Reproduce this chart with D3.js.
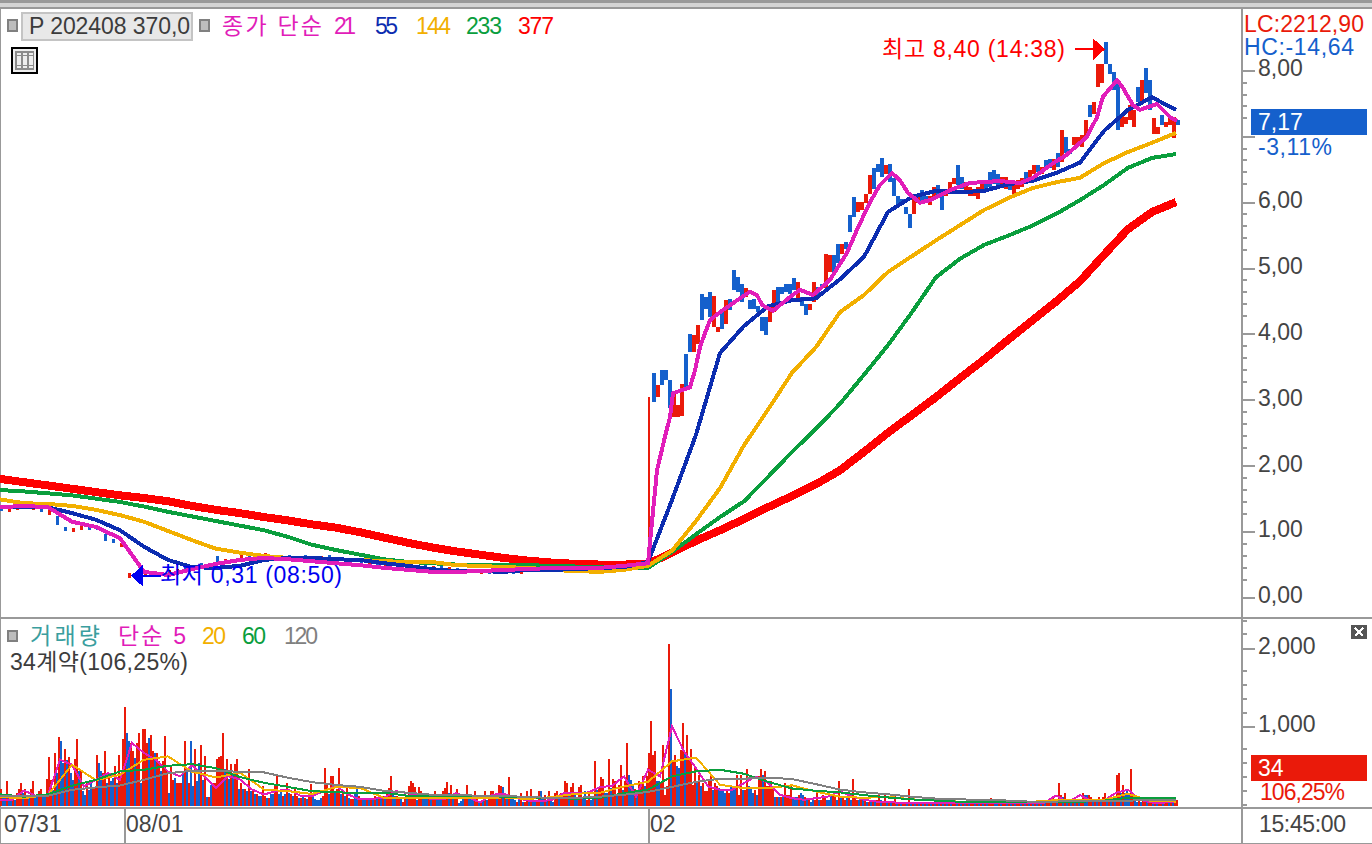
<!DOCTYPE html>
<html>
<head>
<meta charset="utf-8">
<script src="https://cdn.jsdelivr.net/npm/d3@7/dist/d3.min.js"></script>
<style>
  html, body { margin: 0; padding: 0; background: #fff; overflow: hidden; }
  svg { display: block; shape-rendering: crispEdges; }
  text { font-family: "Liberation Sans", "Noto Sans CJK KR", sans-serif; font-size: 23px; }
  .axis text { fill: #444; font-size: 23px; font-family: "Liberation Sans", sans-serif; }
  .axis line { stroke: #999; stroke-width: 2; }
  .axis path { display: none; }
</style>
</head>
<body>
<svg id="chart" width="1372" height="844"></svg>
<script>
//* Price axis
const priceMajor = [0, 1, 2, 3, 4, 5, 6, 7, 8];
const priceMinor = [7.82, 7.64, 7.46, 7.28, 6.82, 6.64, 6.46, 6.28, 5.82, 5.64, 5.46, 5.28, 4.82, 4.64, 4.46, 4.28, 3.82, 3.64, 3.46, 3.28, 2.82, 2.64, 2.46, 2.28, 1.82, 1.64, 1.46, 1.28, 0.82, 0.64, 0.46, 0.28];

//* Volume axis
const volMajor = [1000, 2000];
const volMinor = [2357, 2179, 1714, 1536, 1357, 1179, 714, 536, 357, 179, 0];

//* Date labels (bar index)
const dateIdx = [2, 63, 325];
const dateLabels = ["07/31", "08/01", "02"];
const dateTicks = [62, 324];

//* Candles after the jump, one every 2 bars from bar 324
const candleOpen = [
  0.5, 3.40, 3.04, 3.45, 3.45, 3.30, 2.74, 2.74, 2.76, 3.70,
  4.00, 3.72, 3.85, 4.61, 4.56, 4.64, 4.10, 4.03, 4.38, 4.15,
  4.53, 4.97, 4.86, 4.76, 4.56, 4.51, 4.53, 4.43, 4.26, 4.26,
  4.18, 4.33, 4.71, 4.71, 4.76, 4.76, 4.85, 4.53, 4.56, 4.46,
  4.36, 4.48, 4.71, 4.76, 4.69, 4.94, 5.19, 5.37, 5.22, 5.40,
  5.80, 6.08, 5.85, 5.88, 5.98, 6.13, 6.51, 6.58, 6.67, 6.43,
  6.58, 6.36, 6.10, 6.05, 5.93, 5.82, 5.82, 5.98, 6.18, 6.10,
  5.95, 6.05, 6.26, 6.18, 6.10, 6.20, 6.28, 6.56, 6.38, 6.15,
  6.10, 6.10, 6.05, 6.18, 6.31, 6.46, 6.48, 6.43, 6.23, 6.20,
  6.31, 6.13, 6.20, 6.23, 6.46, 6.33, 6.43, 6.56, 6.43, 6.64,
  6.66, 6.48, 6.74, 6.61, 6.99, 6.81, 6.86, 6.86, 6.84, 6.99,
  7.47, 7.34, 7.75, 7.80, 8.43, 8.10, 7.98, 7.85, 7.14, 7.19,
  7.24, 7.14, 7.75, 7.52, 8.04, 7.85, 7.04, 7.04, 7.32, 7.14,
  7.17, 6.97, 7.24
];
const candleClose = [
  3.04, 2.97, 3.22, 3.22, 3.30, 2.87, 3.09, 2.92, 3.24, 3.17,
  3.72, 3.98, 4.13, 4.21, 4.38, 4.26, 4.58, 4.10, 4.08, 4.51,
  4.36, 4.66, 4.64, 4.48, 4.69, 4.38, 4.38, 4.33, 4.05, 3.99,
  4.43, 4.66, 4.48, 4.61, 4.64, 4.61, 4.66, 4.79, 4.43, 4.28,
  4.46, 4.79, 4.58, 4.69, 5.22, 5.19, 4.94, 5.07, 5.37, 5.29,
  5.55, 5.77, 6.00, 6.00, 6.13, 6.41, 6.20, 6.46, 6.38, 6.56,
  6.31, 6.10, 5.93, 5.95, 5.82, 5.60, 6.10, 6.08, 6.00, 5.98,
  6.10, 6.23, 6.08, 5.88, 6.20, 6.31, 6.36, 6.26, 6.20, 6.31,
  6.23, 6.20, 6.23, 6.31, 6.18, 6.23, 6.28, 6.26, 6.38, 6.38,
  6.18, 6.26, 6.33, 6.36, 6.31, 6.48, 6.56, 6.46, 6.53, 6.48,
  6.51, 6.66, 6.54, 7.09, 6.74, 6.73, 6.99, 6.99, 7.02, 7.24,
  7.29, 7.52, 8.10, 8.10, 8.10, 7.95, 7.70, 7.09, 7.34, 7.29,
  7.47, 7.40, 7.52, 7.85, 7.65, 7.40, 7.28, 7.14, 7.17, 7.22,
  7.27, 7.29, 7.17
];

//* Candles before the jump, one every 4 bars from bar 0
const earlyOpen = [
  1.38, 1.30, 1.33, 1.43, 1.33, 1.38, 1.25, 1.23, 1.07, 1.00,
  1.02, 1.07, 1.07, 0.97, 0.89, 0.76, 0.29, 0.36, 0.32, 0.33,
  0.34, 0.37, 0.39, 0.52, 0.42, 0.52, 0.44, 0.63, 0.52, 0.52,
  0.57, 0.67, 0.58, 0.59, 0.57, 0.57, 0.64, 0.57, 0.64, 0.57,
  0.58, 0.64, 0.55, 0.60, 0.54, 0.58, 0.50, 0.55, 0.48, 0.54,
  0.48, 0.52, 0.44, 0.50, 0.43, 0.49, 0.42, 0.45, 0.38, 0.44,
  0.36, 0.42, 0.35, 0.42, 0.40, 0.36, 0.42, 0.45, 0.40, 0.46,
  0.41, 0.44, 0.42, 0.47, 0.43, 0.46, 0.42, 0.48, 0.44, 0.46,
  0.43
];
const earlyClose = [
  1.32, 1.38, 1.40, 1.35, 1.39, 1.30, 1.33, 1.10, 1.01, 1.06,
  1.10, 1.02, 1.02, 0.86, 0.82, 0.82, 0.37, 0.30, 0.39, 0.38,
  0.39, 0.42, 0.44, 0.42, 0.49, 0.44, 0.49, 0.52, 0.58, 0.59,
  0.64, 0.59, 0.64, 0.67, 0.63, 0.63, 0.58, 0.63, 0.58, 0.62,
  0.63, 0.57, 0.62, 0.54, 0.58, 0.53, 0.57, 0.49, 0.54, 0.48,
  0.53, 0.46, 0.50, 0.44, 0.48, 0.42, 0.47, 0.39, 0.44, 0.38,
  0.42, 0.36, 0.40, 0.35, 0.35, 0.40, 0.38, 0.49, 0.44, 0.42,
  0.47, 0.40, 0.46, 0.43, 0.47, 0.42, 0.46, 0.44, 0.48, 0.43,
  0.48
];

//* Price moving averages, one value every 12 bars
const ma55 = [1.37, 1.37, 1.37, 1.28, 1.18, 1.02, 0.77, 0.57, 0.46, 0.45, 0.48, 0.57, 0.60, 0.60, 0.58, 0.57, 0.52, 0.48, 0.43, 0.40, 0.40, 0.39, 0.42, 0.42, 0.43, 0.45, 0.46, 0.54,
  1.48, 2.47, 3.71, 4.12, 4.42, 4.51, 4.54, 4.83, 5.17, 5.85, 6.08, 6.17, 6.15, 6.17, 6.27, 6.32, 6.44, 6.60, 7.08, 7.40, 7.59, 7.40];
const ma144 = [1.49, 1.43, 1.42, 1.39, 1.33, 1.25, 1.15, 1.01, 0.87, 0.74, 0.68, 0.63, 0.60, 0.58, 0.58, 0.57, 0.55, 0.54, 0.54, 0.49, 0.48, 0.46, 0.45, 0.42, 0.40, 0.39, 0.42, 0.48,
  0.71, 1.16, 1.66, 2.31, 2.85, 3.41, 3.80, 4.33, 4.59, 4.94, 5.18, 5.42, 5.65, 5.88, 6.06, 6.21, 6.30, 6.37, 6.59, 6.76, 6.90, 7.05];
const ma233 = [1.63, 1.61, 1.58, 1.55, 1.50, 1.45, 1.38, 1.30, 1.23, 1.16, 1.09, 1.02, 0.92, 0.80, 0.72, 0.65, 0.58, 0.54, 0.52, 0.50, 0.49, 0.49, 0.49, 0.48, 0.47, 0.46, 0.45, 0.45,
  0.69, 0.96, 1.22, 1.46, 1.83, 2.21, 2.56, 2.94, 3.38, 3.83, 4.33, 4.86, 5.14, 5.35, 5.49, 5.64, 5.82, 6.03, 6.26, 6.52, 6.67, 6.73];
const ma377 = [1.80, 1.75, 1.70, 1.65, 1.60, 1.55, 1.51, 1.46, 1.39, 1.33, 1.28, 1.22, 1.17, 1.11, 1.06, 0.99, 0.91, 0.83, 0.76, 0.70, 0.65, 0.60, 0.56, 0.53, 0.51, 0.50, 0.50, 0.51,
  0.68, 0.86, 1.02, 1.19, 1.37, 1.54, 1.72, 1.93, 2.21, 2.50, 2.77, 3.04, 3.33, 3.61, 3.91, 4.20, 4.49, 4.80, 5.20, 5.59, 5.85, 6.00];

// the 21 line turns too often for a 12 bar grid
const ma21Idx = [0, 12, 24, 36, 48, 60, 72, 84, 96, 108, 120, 132, 144, 156, 168, 180, 192, 204, 216, 228, 240, 252, 264, 276, 288, 300, 312,
  324, 328.5, 332.5, 335, 336.5, 345, 347.5, 350, 352.5, 355, 360, 370, 375, 378.5, 381, 386.5, 395, 400, 406.5, 415, 423.5, 428.5, 435, 440, 446, 450, 454, 460, 465, 476.5, 485, 500, 510, 516.5, 526.5, 533.5, 540, 543.5, 548.5, 551.5, 558.5, 561.5, 566.5, 570, 578.5, 585, 588.5];
const ma21 = [1.37, 1.39, 1.37, 1.15, 1.07, 0.90, 0.39, 0.34, 0.43, 0.51, 0.57, 0.60, 0.58, 0.55, 0.52, 0.49, 0.45, 0.42, 0.39, 0.39, 0.40, 0.42, 0.43, 0.45, 0.45, 0.45, 0.48,
  0.52, 1.93, 2.44, 2.74, 3.10, 3.19, 3.45, 3.80, 4.01, 4.21, 4.33, 4.54, 4.64, 4.59, 4.44, 4.35, 4.56, 4.67, 4.59, 4.82, 5.23, 5.58, 6.00, 6.26, 6.44, 6.33, 6.14, 5.99, 6.03, 6.20, 6.29, 6.32, 6.29, 6.37, 6.59, 6.72, 6.90, 6.99, 7.29, 7.60, 7.85, 7.73, 7.47, 7.40, 7.49, 7.29, 7.23];

//* Volume per bar, negative = falling bar (blue)
const volA = [196,-81,-81,303,-81,-60,81,-60,145,196,273,-145,196,124,-81,196,303,-81,-102,167,196,-102,-124,325,606,316,-188,658,-401,863,-807,-530,709,-572,606,-401,-316,581,841,-423,423,-167,-124,273,-179,-273,209,209,636,-530,-423,401,687,-273,337,-295,-337,487,-273,636,401,837,1250,-914,-807,786,679,-594,786,914,-273,969,969,786,-850,892,679,-658,658,551,-423,551,871,444,-145,487,316,-337,273,273,273,-401,807,-444,273,-807,-231,709,-295,-530,764,-316,615,-102,102,-252,273,273,581,606];
const volB = [619,918,-448,576,-320,512,-384,512,576,-192,277,-192,192,-171,448,-171,192,-128,128,-107,-107,235,107,-85,85,-128,-128,235,363,-128,-192,107,-128,277,-149,128,-107,192,107,-85,85,-107,85,-64,107,256,-107,-64,-55,-55,-85,107,470,277,-128,363,363,-149,192,470,-128,171,-107,235,-85,73,73,-149,-235,107,85,-85,-64,64,-64,85,-85,107,-73,73,-64,107,-73,128,213,363,-171,-107,107,85];
const volC = [-102,38,102,-124,231,303,273,222,-60,222,175,-102,-102,-81,81,-102,102,175,-60,-81,-124,175,209,282,-145,252,-124,124,201,-17,-51,-102,124,252,-102,-81,-102,175,102,-26,26,-51,175,-60,124,175,175,124,-124,252,231,-226,124,-124,354,-124,-124,-60,38,-60,145,-38,26,175,-38,201,-102,-60,38,175,-175,-102,124,-60,175,-51,-38,149,175,-102,149,124,303,273,-124,226,273,-124,-102,226,252,-102,-175,60,175,-60,-102,559,-188,226,354,329,-145,-149,585,-209,329,303,-124,252,508,-188,303,790,-380,-316,-231,201,-145,303];
const volD = [273,359,-231,359,658,1072,636,679,-295,-295,273,764,124,231,2045,-1482,572,636,-487,-465,700,1042,-658,892,572,709,252,465,-273,380,-231,273,167,167,316,380,-188,273,231,-209,-188,-167,-145,167,145,-231,-209,-231,380,124,380,-188,188,457,-231,-209,-145,188,-124,359,457,-380,431,231,231,303,231,-102,102,-102,102,-102,273,124,124,252,-81,-102,-102,124,-145,-124,102,-60,60,-38,-60,60,145,-60,60,124,102,-60,-60,-124,124,102,-60,303,-102,102,60,-81,102,-60,329,102,60,-60,60,-60,60,-38,38,-38,38,-60,60,124,-60,38,124,-38,38,-26,26,124,-38,26,-26,38,26,-26,201,-38,26,-26];
const volE = [17,-26,17,-13,26,-17,13,-26,17,-13,26,-17,60,-26,13,-17,26,-13,85,17,-17,13,-26,17,-13,26,-17,13,26,-17,13,-17,26,-13,17,-26,13,85,17,-26,-17,13,-26,17,26,-13,17,-26,13,-17,17,26,-13,17,-26,13,-17,26,-13,17,-26,17,-13,26,-17,13,26,-17,85,
  17,-26,273,124,-102,145,-38,38,-38,26,-38,38,-26,38,145,-124,-124,124,94,-26,26,-38,94,-26,94,145,-26,94,-38,94,-38,380,401,-145,252,-145,-188,-124,453,124,-60,-38,60,-38,60,60,-38,60,38,-38,38,-38,60,60,-38,60,38,-38,38,-38,38,60];
const volStart = [0, 110, 200, 320, 458];

//* Volume moving averages
const vma5 = [60,60,179,111,124,572,508,231,316,401,316,786,658,572,423,359,508,359,209,363,320,192,128,171,192,115,107,171,235,128,64,73,85,171,145,102,68,68,145,94,26,124,137,81,51,38,60,145,145,154,222,239,359,102,444,359,999,679,465,231,188,188,273,359,273,124,81,60,81,102,167,102,60,38,38,17,17,20,22,20,18,18,20,22,20,18,20,20,115,30,120,40,50,150,190,60,25,25,30];
const vma20 = [94,81,124,508,310,380,572,615,420,346,405,192,170,135,222,213,85,81,81,85,85,90,70,95,137,150,231,290,551,600,252,209,209,245,165,100,85,100,65,55,35,30,30,35,55,60,60,137,40,38];
const vma60 = [130,100,130,240,316,423,444,495,515,465,350,277,225,170,158,141,150,111,111,111,111,100,94,80,75,85,145,190,359,423,444,393,290,205,175,155,120,90,65,50,35,32,32,34,34,34,50,85,85,85];
const vma120 = [111,111,111,188,218,243,316,400,430,430,418,410,342,286,250,226,175,150,125,125,110,110,95,85,85,100,125,160,225,290,330,330,345,325,260,190,155,130,100,75,65,60,50,35,38,40,45,50,55,58];

const red = "#ea1a0a";
const blue = "#1560cc";
const gridColor = "#999";

const svg = d3.select("#chart");

//* Scales
const xBar = d3.scaleLinear().domain([0, 589]).range([0, 1178]);
const yPrice = d3.scaleLinear().domain([0, 8]).range([597.5, 70.3]);
const yVol = d3.scaleLinear().domain([0, 2000]).range([804.5, 648]);

//* Frame
const frame = svg.append("g");
const frameRect = (x, y, w, h, c) => frame.append("rect").attr("x", x).attr("y", y).attr("width", w).attr("height", h).attr("fill", c);
frameRect(0, 0, 1372, 3, gridColor);
frameRect(0, 3, 1372, 4, "#d4d4d4");
frameRect(0, 7, 1372, 2, gridColor);
frameRect(0, 9, 1, 835, gridColor);
frameRect(1241, 9, 2, 835, gridColor);
frameRect(0, 617, 1372, 2, gridColor);
frameRect(0, 807, 1372, 2, gridColor);
frameRect(0, 843, 1372, 1, gridColor);

//* Candles
const candles = [
  ...earlyOpen.map((o, i) => ({ i: i * 4, o, c: earlyClose[i], w: 3 })),
  ...candleOpen.map((o, i) => ({ i: 324 + i * 2, o, c: candleClose[i], w: i === 0 ? 2 : 4 }))
];
svg.append("g").selectAll("rect")
  .data(candles)
  .join("rect")
  .attr("x", d => xBar(d.i))
  .attr("width", d => d.w)
  .attr("y", d => yPrice(Math.max(d.o, d.c)))
  .attr("height", d => Math.max(2, Math.abs(yPrice(d.o) - yPrice(d.c))))
  .attr("fill", d => (d.c >= d.o ? red : blue));

//* Price MA lines
const priceLine = d3.line().x(d => xBar(d[0])).y(d => yPrice(d[1]));
const every12 = arr => arr.map((v, i) => [i * 12, v]);
const maLines = [
  { pts: every12(ma377), color: "#fe0000", w: 8 },
  { pts: every12(ma233), color: "#0a9e3d", w: 4 },
  { pts: every12(ma144), color: "#f2af00", w: 4 },
  { pts: every12(ma55), color: "#0c2db0", w: 4 },
  { pts: ma21.map((v, i) => [ma21Idx[i], v]), color: "#e11db9", w: 4 }
];
svg.append("g").selectAll("path")
  .data(maLines)
  .join("path")
  .attr("d", d => priceLine(d.pts))
  .attr("fill", "none")
  .attr("stroke", d => d.color)
  .attr("stroke-width", d => d.w);

//* Volume bars
const volume = [volA, volB, volC, volD, volE].flatMap((seg, s) => seg.map((v, i) => ({ i: volStart[s] + i, v })));
svg.append("g").selectAll("rect")
  .data(volume)
  .join("rect")
  .attr("x", d => xBar(d.i))
  .attr("width", 2)
  .attr("y", d => yVol(Math.abs(d.v)))
  .attr("height", d => yVol(0) - yVol(Math.abs(d.v)) + 1)
  .attr("fill", d => (d.v >= 0 ? red : blue));

//* Volume MA lines
const volLine = d3.line().x(d => xBar(d[0])).y(d => yVol(d[1]));
const volMa = [
  { pts: vma5.map((v, i) => [i * 6, v]), color: "#e11db9" },
  { pts: every12(vma20), color: "#f2af00" },
  { pts: every12(vma60), color: "#0a9e3d" },
  { pts: every12(vma120), color: "#808080" }
];
svg.append("g").selectAll("path")
  .data(volMa)
  .join("path")
  .attr("d", d => volLine(d.pts))
  .attr("fill", "none")
  .attr("stroke", d => d.color)
  .attr("stroke-width", 2);

//* Axes
// 7,00 sits behind the current price box in the original
const commaFormat = d => (d === 7 ? "" : d3.format(".2f")(d).replace(".", ","));
const thousands = d => d3.format(",")(d);
const priceAxis = svg.append("g").attr("class", "axis").attr("transform", "translate(1243,0)");
priceAxis.append("g").call(d3.axisRight(yPrice).tickValues(priceMinor).tickSize(4).tickFormat(""));
priceAxis.append("g").call(d3.axisRight(yPrice).tickValues(priceMajor).tickSize(12).tickPadding(3).tickFormat(commaFormat));
const volAxis = svg.append("g").attr("class", "axis").attr("transform", "translate(1243,0)");
volAxis.append("g").call(d3.axisRight(yVol).tickValues(volMinor).tickSize(4).tickFormat(""));
volAxis.append("g").call(d3.axisRight(yVol).tickValues(volMajor).tickSize(12).tickPadding(3).tickFormat(thousands));
svg.selectAll(".axis text").attr("transform", "translate(0,-2)");

const timeAxis = svg.append("g").attr("class", "axis").attr("transform", "translate(0,809)");
timeAxis.call(d3.axisBottom(xBar).tickValues(dateTicks).tickSize(34).tickFormat(""));
svg.append("g").selectAll("text")
  .data(dateLabels)
  .join("text")
  .attr("x", (d, i) => xBar(dateIdx[i]))
  .attr("y", 832)
  .attr("fill", "#444")
  .text(d => d);

//* Text helper, len stretches the text to the width it has in the original
const label = (x, y, txt, color, len) => {
  const t = svg.append("text").attr("x", x).attr("y", y).attr("fill", color).text(txt);
  if (len) t.attr("textLength", len).attr("lengthAdjust", "spacing");
  return t;
};
const marker = (x, y, w, h) => svg.append("rect")
  .attr("x", x).attr("y", y).attr("width", w).attr("height", h)
  .attr("fill", "#bdbdbd").attr("stroke", "#808080").attr("stroke-width", 2);

//* Top legend
marker(8, 20, 9, 11);
svg.append("rect").attr("x", 22).attr("y", 13).attr("width", 170).attr("height", 27)
  .attr("fill", "#e8e8e8").attr("stroke", "#c4c4c4").attr("stroke-width", 2);
label(29, 34, "P 202408 370,0", "#3c3c3c", 161);
marker(200, 20, 9, 11);
label(222, 34, "종가 단순", "#e11db9", 100);
label(334, 34, "21", "#e11db9", 22);
label(375, 34, "55", "#0c2db0", 23);
label(416, 34, "144", "#f2af00", 35);
label(466, 34, "233", "#0a9e3d", 36);
label(518, 34, "377", "#fe0000", 36);

// table icon
const icon = svg.append("g");
icon.append("rect").attr("x", 12).attr("y", 48).attr("width", 25).attr("height", 25).attr("fill", "#eee").attr("stroke", "#000").attr("stroke-width", 2);
icon.append("rect").attr("x", 15).attr("y", 51).attr("width", 19).attr("height", 19).attr("fill", "#8c8c8c");
icon.selectAll(".cell")
  .data(d3.cross([16.5, 22.5, 28.5], [52.5, 56, 66]))
  .join("rect")
  .attr("x", d => d[0]).attr("y", d => d[1])
  .attr("width", 4).attr("height", d => (d[1] === 56 ? 9 : 2))
  .attr("fill", "#eee");

//* Right side labels
label(1244, 32, "LC:2212,90", red, 120);
label(1244, 55, "HC:-14,64", blue, 110);
svg.append("rect").attr("x", 1251).attr("y", 109).attr("width", 116).attr("height", 26).attr("fill", blue);
label(1258, 130, "7,17", "#fff");
label(1258, 155, "-3,11%", blue, 74);
svg.append("rect").attr("x", 1251).attr("y", 755).attr("width", 116).attr("height", 26).attr("fill", red);
label(1258, 776, "34", "#fff");
label(1260, 800, "106,25%", red, 85);
label(1259, 832, "15:45:00", "#444", 87);

// close icon on the volume pane
svg.append("rect").attr("x", 1351).attr("y", 625).attr("width", 16).attr("height", 14).attr("fill", "#555");
svg.append("path").attr("d", "M1355,628L1363,636M1363,628L1355,636").attr("stroke", "#fff").attr("stroke-width", 2);

//* Volume legend
marker(8, 631, 9, 10);
label(30, 644, "거래량", "#3a9e9e", 70);
label(118, 644, "단순 5", "#e11db9", 68);
label(202, 644, "20", "#f2af00", 24);
label(242, 644, "60", "#0a9e3d", 24);
label(284, 644, "120", "#808080", 34);
label(10, 670, "34계약(106,25%)", "#3c3c3c", 178);

//* High / low annotations
const hiX = xBar(552.5), hiY = yPrice(8.32);
svg.append("path").attr("d", `M${hiX - 30},${hiY}H${hiX - 12}`).attr("stroke", "#fe0000").attr("stroke-width", 2);
svg.append("path").attr("d", `M${hiX},${hiY}L${hiX - 12},${hiY - 11}V${hiY + 11}Z`).attr("fill", "#fe0000");
label(882, 57, "최고 8,40 (14:38)", "#fe0000", 183);

const loX = xBar(65.5), loY = yPrice(0.33);
svg.append("path").attr("d", `M${loX + 12},${loY}H${loX + 30}`).attr("stroke", "#0000f0").attr("stroke-width", 2);
svg.append("path").attr("d", `M${loX},${loY}L${loX + 12},${loY - 11}V${loY + 11}Z`).attr("fill", "#0000f0");
label(160, 583, "최저 0,31 (08:50)", "#0000f0", 182);
</script>
</body>
</html>
